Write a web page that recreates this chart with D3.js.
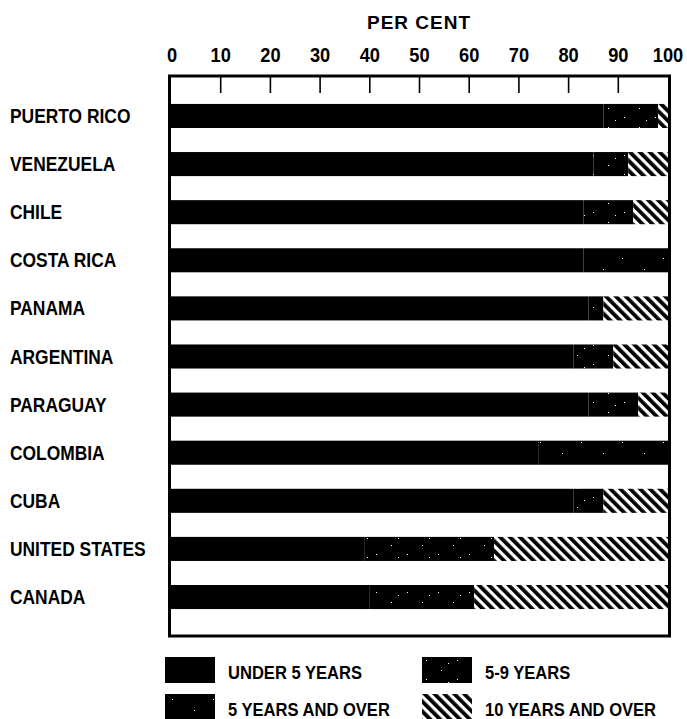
<!doctype html>
<html>
<head>
<script src="https://d3js.org/d3.v7.min.js"></script>
<style>
    body { margin: 0; background: #fff; }
    svg text {
        fill: #000;
        font-family: "Liberation Sans", Arial, sans-serif;
        font-weight: bold;
    }
</style>
</head>
<body>
<script>
    // values (per cent of each country's total)
    const countries = ["PUERTO RICO", "VENEZUELA", "CHILE", "COSTA RICA", "PANAMA", "ARGENTINA",
                       "PARAGUAY", "COLOMBIA", "CUBA", "UNITED STATES", "CANADA"];
    const under5     = [87, 85, 83, 83, 84, 81, 84, 74, 81, 39, 40];
    const fiveToNine = [11,  7, 10, null, 3,  8, 10, null, 6, 26, 21];
    const tenPlus    = [ 2,  8,  7, null, 13, 11, 6, null, 13, 35, 39];
    const fivePlus   = [null, null, null, 17, null, null, null, 26, null, null, null];
    const tickValues = [0, 10, 20, 30, 40, 50, 60, 70, 80, 90, 100];

    const legendItems = [
        {key: "under5", label: "UNDER 5 YEARS"},
        {key: "fiveToNine", label: "5-9 YEARS"},
        {key: "fivePlus", label: "5 YEARS AND OVER"},
        {key: "tenPlus", label: "10 YEARS AND OVER"}
    ];

    const width = 687, height = 719;
    const fills = {
        under5: "#000",
        fiveToNine: "url(#speckle)",
        fivePlus: "url(#speckle2)",
        tenPlus: "url(#hatch)"
    };

    const svg = d3.select("body").append("svg")
        .attr("width", width)
        .attr("height", height);

    // patterns: near-solid black with a few white specks, and the diagonal hatching
    const defs = svg.append("defs");
    function speckle(id, w, h, dots) {
        const p = defs.append("pattern").attr("id", id)
            .attr("patternUnits", "userSpaceOnUse").attr("width", w).attr("height", h);
        p.append("rect").attr("width", w).attr("height", h).attr("fill", "#000");
        dots.forEach(([dx, dy]) => p.append("rect")
            .attr("x", dx).attr("y", dy).attr("width", 1).attr("height", 1).attr("fill", "#fff"));
    }
    speckle("speckle", 31, 19, [[4, 3], [19, 13], [26, 6]]);
    speckle("speckle2", 41, 23, [[7, 5], [29, 16]]);

    const hatch = defs.append("pattern").attr("id", "hatch")
        .attr("patternUnits", "userSpaceOnUse").attr("width", 7).attr("height", 7)
        .attr("patternTransform", "rotate(-45)");
    hatch.append("rect").attr("width", 7).attr("height", 7).attr("fill", "#fff");
    hatch.append("rect").attr("width", 3.8).attr("height", 7).attr("fill", "#000");

    // scales
    const x = d3.scaleLinear().domain([0, 100]).range([171, 668]);
    const y = d3.scaleBand().domain(countries).range([77, 636])
        .paddingInner(0.5).paddingOuter(0.56);

    // stack each country's segments left to right
    const rows = countries.map((c, i) => {
        const parts = [["under5", under5[i]], ["fiveToNine", fiveToNine[i]],
                       ["fivePlus", fivePlus[i]], ["tenPlus", tenPlus[i]]]
            .filter(p => p[1] != null);
        let acc = 0;
        return parts.map(([key, v]) => {
            const seg = {country: c, key, x0: acc, x1: acc + v};
            acc += v;
            return seg;
        });
    });

    svg.append("g")
        .selectAll("rect")
        .data(rows.flat())
        .join("rect")
        .attr("x", d => x(d.x0))
        .attr("y", d => y(d.country))
        .attr("width", d => x(d.x1) - x(d.x0))
        .attr("height", y.bandwidth())
        .attr("fill", d => fills[d.key]);

    // frame
    svg.append("rect")
        .attr("x", 169.5).attr("y", 76)
        .attr("width", 500).attr("height", 560)
        .attr("fill", "none").attr("stroke", "#000").attr("stroke-width", 3);

    // ticks hanging from the top of the frame
    svg.append("g").selectAll("line")
        .data(tickValues.slice(1, -1))
        .join("line")
        .attr("x1", d => x(d)).attr("x2", d => x(d))
        .attr("y1", 77).attr("y2", 93)
        .attr("stroke", "#000").attr("stroke-width", 1.6);

    // the printed lettering is a tall condensed gothic: squeeze it sideways
    const squeeze = (px, py, k) => `translate(${px},${py}) scale(${k},1)`;

    // tick labels
    svg.append("g").selectAll("text")
        .data(tickValues)
        .join("text")
        .attr("transform", d => squeeze(x(d) + (d === 0 ? 1 : 0), 62, 0.87))
        .attr("text-anchor", "middle")
        .style("font-size", "21px")
        .text(d => d);

    svg.append("text")
        .attr("x", 419).attr("y", 29)
        .attr("text-anchor", "middle")
        .style("font-size", "19px")
        .style("letter-spacing", "1px")
        .text("PER CENT");

    // country labels
    svg.append("g").selectAll("text")
        .data(countries)
        .join("text")
        .attr("transform", d => squeeze(10, y(d) + y.bandwidth() / 2 + 7, 0.87))
        .style("font-size", "20px")
        .text(d => d);

    // legend, two columns by two rows
    const legend = svg.append("g").selectAll("g")
        .data(legendItems)
        .join("g")
        .attr("transform", (d, i) => `translate(${i % 2 ? 422 : 165},${i < 2 ? 657 : 694})`);
    legend.append("rect")
        .attr("width", 50).attr("height", 26)
        .attr("fill", d => fills[d.key]);
    legend.append("text")
        .attr("transform", squeeze(63, 22, 0.92))
        .style("font-size", "18px")
        .text(d => d.label);
</script>
</body>
</html>
